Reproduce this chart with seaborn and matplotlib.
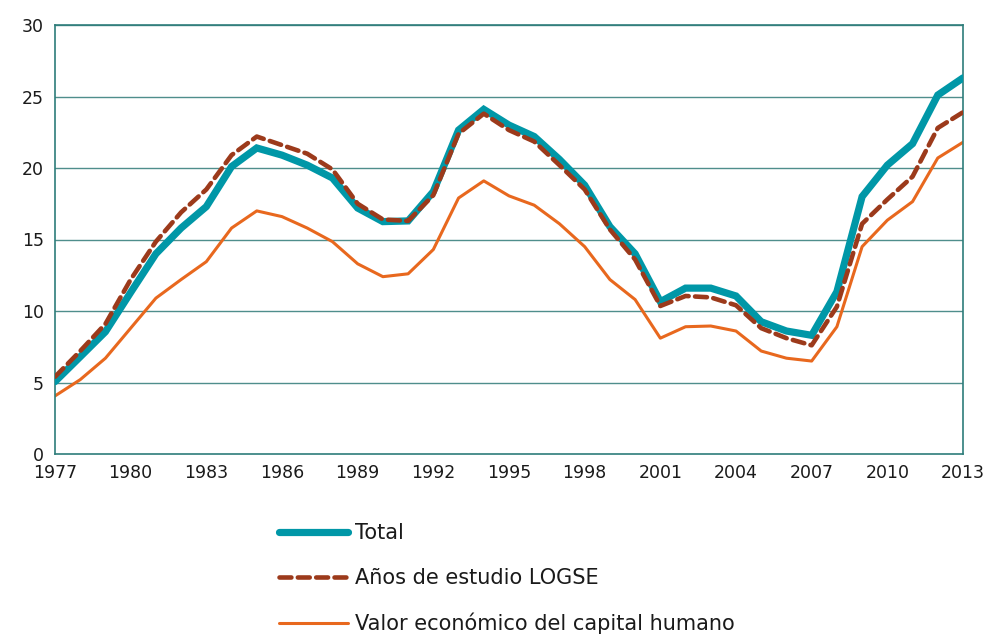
import matplotlib
matplotlib.use("Agg")
import matplotlib.pyplot as plt
import seaborn as sns
import pandas as pd

years = list(range(1977, 2014))
total = [5.06, 6.8, 8.55, 11.3, 14.0, 15.8, 17.3, 20.1, 21.4, 20.9, 20.2, 19.3, 17.2,
         16.25, 16.3, 18.35, 22.65, 24.1, 23.0, 22.2, 20.6, 18.8, 15.9, 14.0, 10.65,
         11.6, 11.6, 11.05, 9.25, 8.6, 8.3, 11.35, 18.0, 20.2, 21.7, 25.1, 26.3]
logse = [5.4, 7.2, 9.1, 12.2, 14.85, 16.9, 18.5, 20.9, 22.2, 21.6, 21.0, 19.9, 17.5,
         16.4, 16.3, 18.1, 22.4, 23.8, 22.65, 21.85, 20.2, 18.5, 15.7, 13.6, 10.35,
         11.05, 10.95, 10.4, 8.8, 8.1, 7.6, 10.3, 16.1, 17.8, 19.4, 22.8, 23.9]
valor = [4.06, 5.2, 6.7, 8.8, 10.9, 12.2, 13.45, 15.8, 17.0, 16.6, 15.8, 14.85, 13.3,
         12.4, 12.6, 14.3, 17.9, 19.1, 18.05, 17.4, 16.1, 14.5, 12.2, 10.8, 8.1,
         8.9, 8.95, 8.6, 7.2, 6.7, 6.5, 8.9, 14.5, 16.35, 17.65, 20.7, 21.8]
labels = ["Total", "Años de estudio LOGSE", "Valor económico del capital humano"]
xticks = list(range(1977, 2014, 3))
yticks = [0, 5, 10, 15, 20, 25, 30]

sns.set_style("white")
plt.rcParams['font.family'] = ['DejaVu Sans']

fig = plt.figure(figsize=(9.87, 6.35), dpi=100)
ax = fig.add_axes([55/987, 1-454/635, (963-55)/987, (454-25)/635])

grid_c = "#4F8E8C"
for y in yticks[1:]:
    ax.axhline(y, color=grid_c, lw=1.0, zorder=0)

df = pd.DataFrame({"year": years, "total": total, "logse": logse, "valor": valor})

sns.lineplot(data=df, x="year", y="total", ax=ax, color="#0097A7", lw=5.2,
             label=labels[0], solid_capstyle="round", solid_joinstyle="miter", zorder=3)
sns.lineplot(data=df, x="year", y="logse", ax=ax, color="#9C3A1B", lw=3.3,
             label=labels[1], zorder=4)
ax.lines[-1].set_dashes((2.6, 1.4))
ax.lines[-1].set_dash_capstyle("round")
sns.lineplot(data=df, x="year", y="valor", ax=ax, color="#E8681E", lw=2.2,
             label=labels[2], zorder=2)

ax.set_xlim(1977, 2013)
ax.set_ylim(0, 30)
ax.set_xticks(xticks)
ax.set_yticks(yticks)
ax.tick_params(axis="both", length=0, labelsize=12.5, colors="#1a1a1a")
ax.tick_params(axis="x", pad=7)
ax.tick_params(axis="y", pad=8)
ax.set_xlabel("")
ax.set_ylabel("")
for s in ax.spines.values():
    s.set_color("#2E7D7A")
    s.set_linewidth(1.2)

h, l = ax.get_legend_handles_labels()
ax.legend_.remove()
leg = fig.legend(h, l, loc="upper left", bbox_to_anchor=(279/987, 1-523/635),
                 frameon=False, fontsize=15, handlelength=3.3, handletextpad=0.33,
                 labelspacing=1.2, borderaxespad=0, borderpad=0)
for t in leg.get_texts():
    t.set_color("#1a1a1a")

fig.savefig("out.png", dpi=100)
